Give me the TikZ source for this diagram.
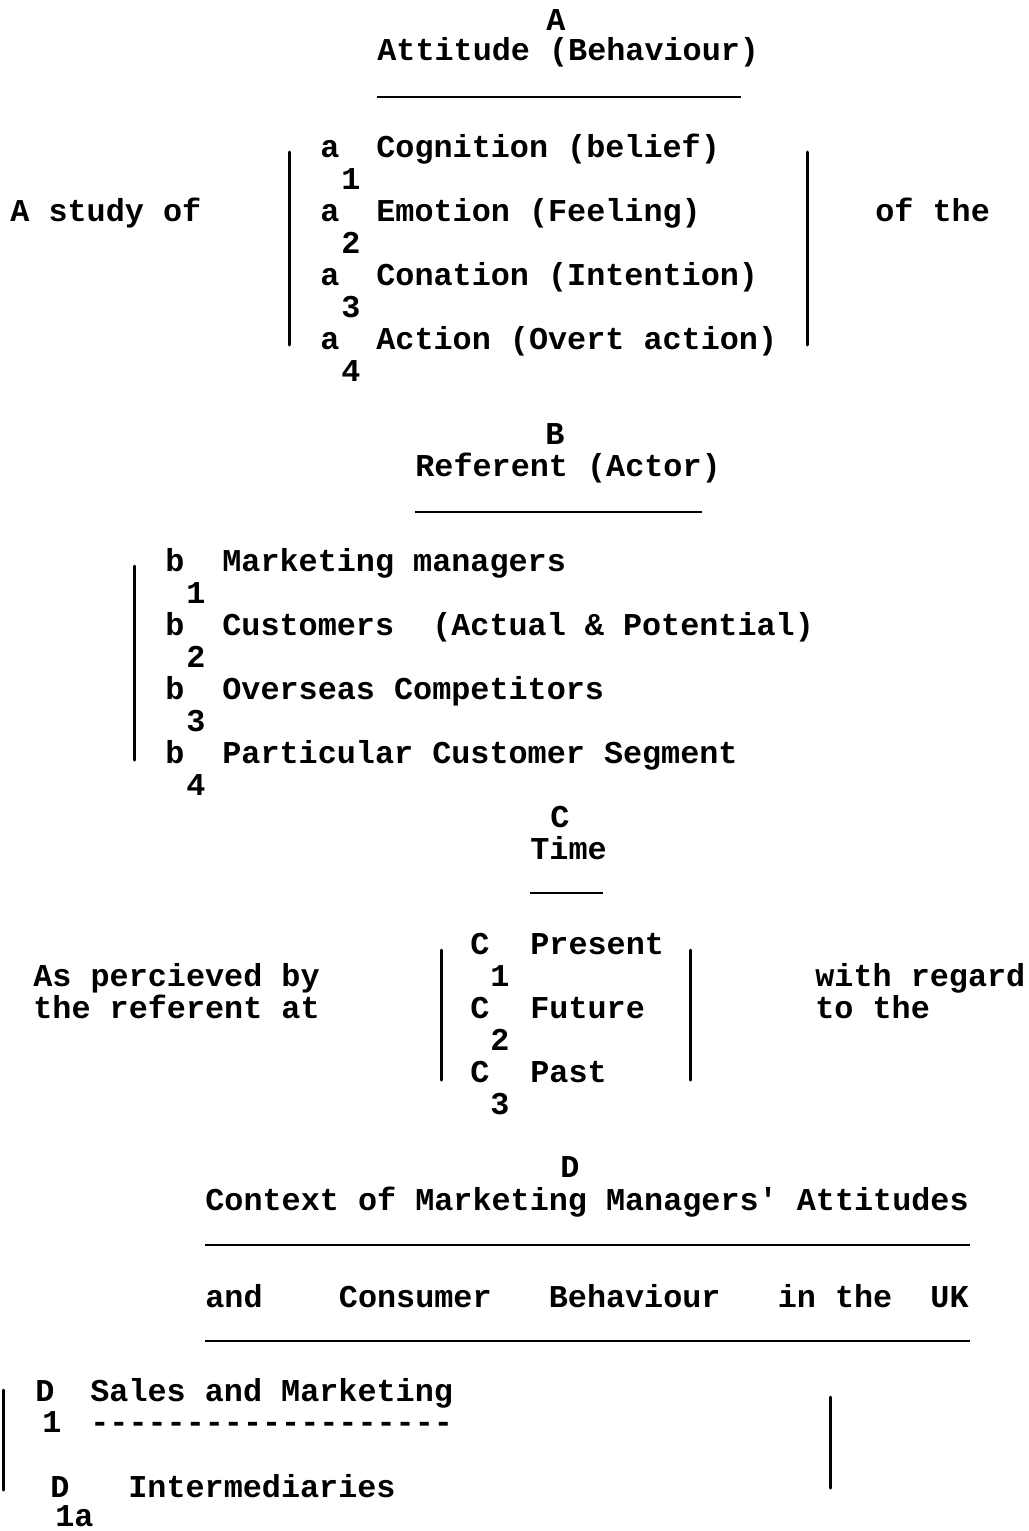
\documentclass[tikz,border=0pt]{standalone}
\usepackage{fontspec}
\setmonofont{Liberation Mono}
\usetikzlibrary{positioning}
\definecolor{ink}{HTML}{000000}

\begin{document}
\begin{tikzpicture}[x=0.5pt,y=-0.5pt,
  font=\ttfamily\bfseries\fontsize{15.9}{19}\selectfont,text=ink,
  tw/.style={anchor=base west,inner sep=0pt},
  hd/.style={anchor=base,inner sep=0pt},
  rule/.style={ink,line width=1.4pt},
  brk/.style={ink,line width=1.5pt,line cap=round},
  ]
\useasboundingbox (0,0) rectangle (1028,1531);

% ================= A: attitude =================
\node[hd] (hA) at (556,31) {A};
\node[tw] (tA) at (377,61) {Attitude (Behaviour)};
\draw[rule] (377,97) -- (741,97);

\node[tw] (study) at (10,221) {A study of};
\foreach \n/\t [count=\k from 0] in {1/Cognition (belief),2/Emotion (Feeling),
    3/Conation (Intention),4/Action (Overt action)}{
  \node[tw] (la\n) at (320,157+64*\k) {a};
  \node[tw] (sa\n) at (341,189+64*\k) {\n};
  \node[tw] (ia\n) at (376,157+64*\k) {\t};
}
\draw[brk] (289,152) -- (289,345);
\draw[brk] (807,152) -- (807,345);
\node[tw] (ofthe) at (875,221) {of the};

% ================= B: referent =================
\node[hd] (hB) at (555,444) {B};
\node[tw] (tB) at (415,476) {Referent (Actor)};
\draw[rule] (415,512) -- (702,512);

\foreach \n/\t [count=\k from 0] in {1/Marketing managers,
    2/Customers~~(Actual \& Potential),3/Overseas Competitors,
    4/Particular Customer Segment}{
  \node[tw] (lb\n) at (165,571+64*\k) {b};
  \node[tw] (sb\n) at (186,603+64*\k) {\n};
  \node[tw] (ib\n) at (222,571+64*\k) {\t};
}
\draw[brk] (134,566) -- (134,760);

% ================= C: time =================
\node[hd] (hC) at (560,827) {C};
\node[tw] (tC) at (530,859) {Time};
\draw[rule] (530,893) -- (603,893);

\node[tw] (perc1) at (33,986) {As percieved by};
\node[tw] (perc2) at (33,1018) {the referent at};
\foreach \n/\t [count=\k from 0] in {1/Present,2/Future,3/Past}{
  \node[tw] (lc\n) at (470,954+64*\k) {C};
  \node[tw] (sc\n) at (490,986+64*\k) {\n};
  \node[tw] (ic\n) at (530,954+64*\k) {\t};
}
\draw[brk] (441,950) -- (441,1080);
\draw[brk] (690,950) -- (690,1080);
\node[tw] (regard1) at (815,986) {with regard};
\node[tw] (regard2) at (815,1018) {to the};

% ================= D: context =================
\node[hd] (hD) at (570,1177) {D};
\node[tw] (tD1) at (205,1210) {Context of Marketing Managers' Attitudes};
\draw[rule] (205,1245) -- (970,1245);
\node[tw] (tD2) at (205,1307) {and~~~~Consumer~~~Behaviour~~~in~the~~UK};
\draw[rule] (205,1341) -- (970,1341);

\node[tw] (ld1) at (35,1401) {D};
\node[tw] (id1) at (90,1401) {Sales and Marketing};
\node[tw] (sd1) at (42,1432) {1};
\node[tw] (dash) at (90,1432) {-------------------};
\node[tw] (ld1a) at (50,1497) {D};
\node[tw] (id1a) at (128,1497) {Intermediaries};
\node[tw] (sd1a) at (55,1526) {1a};
\draw[brk] (3,1390) -- (3,1490);
\draw[brk] (830,1397) -- (830,1488);

\end{tikzpicture}
\end{document}
